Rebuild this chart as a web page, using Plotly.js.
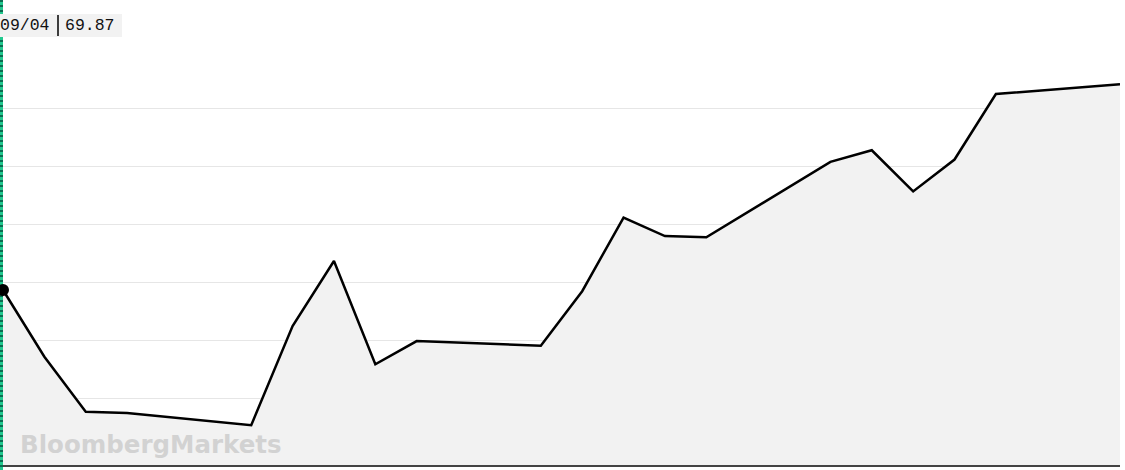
<!DOCTYPE html>
<html>
<head>
<meta charset="utf-8">
<script src="https://cdn.plot.ly/plotly-3.0.1.min.js"></script>
<style>
  html, body { margin: 0; padding: 0; background: #fff; }
  #chart { width: 1125px; height: 470px; }
</style>
</head>
<body>
<div id="chart"></div>
<script>
// Daily closes, 2018-09-04 .. 2018-10-01 (trading days only)
const dates = [
  '2018-09-04', '2018-09-05', '2018-09-06', '2018-09-07',
  '2018-09-10', '2018-09-11', '2018-09-12', '2018-09-13', '2018-09-14',
  '2018-09-17', '2018-09-18', '2018-09-19', '2018-09-20', '2018-09-21',
  '2018-09-24', '2018-09-25', '2018-09-26', '2018-09-27', '2018-09-28',
  '2018-10-01'
];
const prices = [
  69.87, 68.72, 67.77, 67.75,
  67.54, 69.25, 70.37, 68.59, 68.99,
  68.91, 69.85, 71.12, 70.80, 70.78,
  72.08, 72.28, 71.57, 72.12, 73.25,
  73.42
];
const gridValues = [68, 69, 70, 71, 72, 73];
const hoverDate = '09/04';
const hoverValue = '69.87';

// plot area in pixels (used to place the overlay bits in paper units)
const W = 1125, H = 470;
const margin = { l: 3, r: 5, t: 0, b: 5 };
const pw = W - margin.l - margin.r;
const ph = H - margin.t - margin.b;
const px = (x) => (x - margin.l) / pw;
const py = (y) => (H - margin.b - y) / ph;

const line = {
  x: dates,
  y: prices,
  type: 'scatter',
  mode: 'lines',
  fill: 'tozeroy',
  fillcolor: '#f2f2f2',
  line: { color: '#000000', width: 2.5, shape: 'linear' },
  hoverinfo: 'skip'
};

const layout = {
  width: W,
  height: H,
  margin: margin,
  paper_bgcolor: '#ffffff',
  plot_bgcolor: '#ffffff',
  showlegend: false,
  xaxis: {
    type: 'date',
    range: [dates[0], dates[dates.length - 1]],
    showgrid: false,
    zeroline: false,
    showticklabels: false,
    ticks: '',
    showline: true,
    linecolor: '#444444',
    linewidth: 2,
    fixedrange: true
  },
  yaxis: {
    range: [66.853, 74.871],
    tickmode: 'array',
    tickvals: gridValues,
    showgrid: true,
    gridcolor: '#e6e6e6',
    gridwidth: 1,
    zeroline: false,
    showticklabels: false,
    ticks: '',
    showline: false,
    fixedrange: true
  },
  shapes: [
    // hover spike line
    {
      type: 'line', xref: 'paper', yref: 'paper',
      x0: px(1.5), x1: px(1.5), y0: py(470), y1: py(0),
      line: { color: '#0b6b50', width: 3 }
    },
    {
      type: 'line', xref: 'paper', yref: 'paper',
      x0: px(1.5), x1: px(1.5), y0: py(470), y1: py(0),
      line: { color: '#22c98f', width: 3, dash: '3px,2px' }
    },
    // dot on the hovered point (first data point, at the left edge)
    {
      type: 'circle', xref: 'paper', yref: 'y',
      xsizemode: 'pixel', ysizemode: 'pixel',
      xanchor: 0, yanchor: prices[0],
      x0: -6, x1: 6, y0: -6, y1: 6,
      fillcolor: '#000000', line: { width: 0 }
    },
    // hover label box
    {
      type: 'rect', xref: 'paper', yref: 'paper',
      x0: px(0), x1: px(122), y0: py(37), y1: py(14),
      fillcolor: '#f2f2f2', line: { width: 0 }, layer: 'above'
    },
    {
      type: 'line', xref: 'paper', yref: 'paper',
      x0: px(58), x1: px(58), y0: py(36), y1: py(15),
      line: { color: '#000000', width: 1.5 }
    }
  ],
  annotations: [
    {
      xref: 'paper', yref: 'paper', x: px(52), y: py(25.5),
      xanchor: 'right', yanchor: 'middle', showarrow: false,
      text: hoverDate,
      font: { family: 'Liberation Mono, DejaVu Sans Mono, monospace', size: 16.5, color: '#111111' }
    },
    {
      xref: 'paper', yref: 'paper', x: px(63), y: py(25.5),
      xanchor: 'left', yanchor: 'middle', showarrow: false,
      text: hoverValue,
      font: { family: 'Liberation Mono, DejaVu Sans Mono, monospace', size: 16.5, color: '#111111' }
    },
    // watermark
    {
      xref: 'paper', yref: 'paper', x: px(18), y: py(444.5),
      xanchor: 'left', yanchor: 'middle', showarrow: false,
      text: '<b>BloombergMarkets</b>',
      font: { family: 'DejaVu Sans, sans-serif', size: 24.5, color: '#d2d2d2' }
    }
  ]
};

Plotly.newPlot('chart', [line], layout, { displayModeBar: false, staticPlot: true });
</script>
</body>
</html>
